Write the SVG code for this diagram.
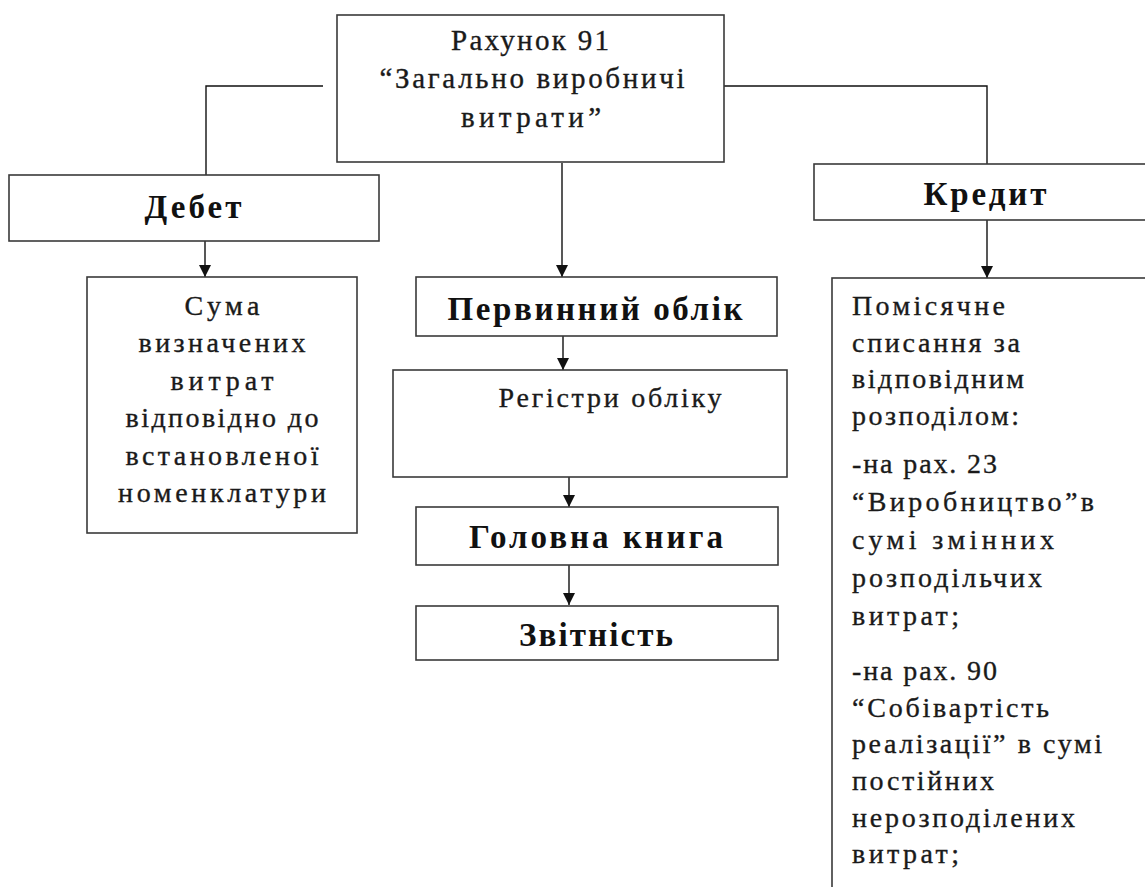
<svg xmlns="http://www.w3.org/2000/svg" width="1145" height="887" viewBox="0 0 1145 887">
  <defs>
    <style>
      .box { fill: #ffffff; stroke: #3a3a3a; stroke-width: 1.6; }
      .link { fill: none; stroke: #111111; stroke-width: 1.4; }
      .txt { font-family: "Liberation Serif", "DejaVu Serif", serif; font-size: 28px; fill: #1a1a1a; stroke: #1a1a1a; stroke-width: 0.35; }
      .top { font-size: 29px; }
      .head { font-family: "Liberation Serif", "DejaVu Serif", serif; font-size: 33px; font-weight: bold; fill: #111111; }
      .mid { text-anchor: middle; }
    </style>
    <!-- filled arrowhead drawn along +x so orient="auto" turns it to the line direction -->
    <marker id="arrow" viewBox="0 0 12 12" refX="12" refY="6" markerWidth="12" markerHeight="12" markerUnits="userSpaceOnUse" orient="auto">
      <path d="M0,0 L12,6 L0,12 Z" fill="#111111"/>
    </marker>
  </defs>
  <rect width="1145" height="887" fill="#ffffff"/>

  <!-- connectors -->
  <g id="connectors">
    <path class="link" d="M323,86 H206 V175"/>
    <path class="link" d="M724,86 H987 V164"/>
    <path class="link" d="M562,163 V277" marker-end="url(#arrow)"/>
    <path class="link" d="M205,241 V277" marker-end="url(#arrow)"/>
    <path class="link" d="M987,220 V278" marker-end="url(#arrow)"/>
    <path class="link" d="M563,336 V370" marker-end="url(#arrow)"/>
    <path class="link" d="M569,477 V507" marker-end="url(#arrow)"/>
    <path class="link" d="M569,565 V605" marker-end="url(#arrow)"/>
  </g>

  <!-- account 91 -->
  <g id="account91">
    <rect class="box" x="337" y="15" width="387" height="147"/>
    <text class="txt top mid" x="530" y="50" textLength="158" lengthAdjust="spacing">Рахунок 91</text>
    <text class="txt top mid" x="532" y="88" textLength="305" lengthAdjust="spacing">“Загально виробничі</text>
    <text class="txt top mid" x="531" y="127" textLength="140" lengthAdjust="spacing">витрати”</text>
  </g>

  <!-- debit -->
  <g id="debit">
    <rect class="box" x="9" y="175" width="370" height="66"/>
    <text class="head mid" x="193" y="218" textLength="97" lengthAdjust="spacing">Дебет</text>
  </g>

  <!-- credit -->
  <g id="credit">
    <rect class="box" x="814" y="164" width="340" height="56"/>
    <text class="head mid" x="985" y="205" textLength="123" lengthAdjust="spacing">Кредит</text>
  </g>

  <!-- debit contents -->
  <g id="debit-sum">
    <rect class="box" x="87" y="277" width="270" height="256"/>
    <text class="txt mid" x="222" y="315" textLength="75" lengthAdjust="spacing">Сума</text>
    <text class="txt mid" x="222" y="352" textLength="167" lengthAdjust="spacing">визначених</text>
    <text class="txt mid" x="222" y="390" textLength="103" lengthAdjust="spacing">витрат</text>
    <text class="txt mid" x="222" y="427" textLength="193" lengthAdjust="spacing">відповідно до</text>
    <text class="txt mid" x="222" y="465" textLength="193" lengthAdjust="spacing">встановленої</text>
    <text class="txt mid" x="222" y="502" textLength="208" lengthAdjust="spacing">номенклатури</text>
  </g>

  <!-- primary records -->
  <g id="primary">
    <rect class="box" x="416" y="277" width="361" height="59"/>
    <text class="head mid" x="595" y="320" textLength="295" lengthAdjust="spacing">Первинний облік</text>
  </g>

  <!-- registers -->
  <g id="registers">
    <rect class="box" x="393" y="370" width="394" height="107"/>
    <text class="txt mid" x="610" y="407" textLength="223" lengthAdjust="spacing">Регістри обліку</text>
  </g>

  <!-- general ledger -->
  <g id="ledger">
    <rect class="box" x="416" y="507" width="362" height="58"/>
    <text class="head mid" x="596" y="548" textLength="254" lengthAdjust="spacing">Головна книга</text>
  </g>

  <!-- reporting -->
  <g id="reporting">
    <rect class="box" x="416" y="606" width="362" height="54"/>
    <text class="head mid" x="596" y="646" textLength="154" lengthAdjust="spacing">Звітність</text>
  </g>

  <!-- credit contents -->
  <g id="credit-writeoff">
    <rect class="box" x="832" y="278" width="330" height="620"/>
    <text class="txt" x="852" y="315" textLength="153" lengthAdjust="spacing">Помісячне</text>
    <text class="txt" x="852" y="352" textLength="168" lengthAdjust="spacing">списання за</text>
    <text class="txt" x="852" y="388" textLength="172" lengthAdjust="spacing">відповідним</text>
    <text class="txt" x="852" y="425" textLength="167" lengthAdjust="spacing">розподілом:</text>
    <text class="txt" x="852" y="473" textLength="145" lengthAdjust="spacing">-на рах. 23</text>
    <text class="txt" x="852" y="511" textLength="242" lengthAdjust="spacing">“Виробництво”в</text>
    <text class="txt" x="852" y="549" textLength="202" lengthAdjust="spacing">сумі змінних</text>
    <text class="txt" x="852" y="587" textLength="190" lengthAdjust="spacing">розподільчих</text>
    <text class="txt" x="852" y="625" textLength="107" lengthAdjust="spacing">витрат;</text>
    <text class="txt" x="852" y="680" textLength="145" lengthAdjust="spacing">-на рах. 90</text>
    <text class="txt" x="852" y="717" textLength="197" lengthAdjust="spacing">“Собівартість</text>
    <text class="txt" x="852" y="753" textLength="250" lengthAdjust="spacing">реалізації” в сумі</text>
    <text class="txt" x="852" y="790" textLength="142" lengthAdjust="spacing">постійних</text>
    <text class="txt" x="852" y="827" textLength="223" lengthAdjust="spacing">нерозподілених</text>
    <text class="txt" x="852" y="863" textLength="107" lengthAdjust="spacing">витрат;</text>
  </g>
</svg>
